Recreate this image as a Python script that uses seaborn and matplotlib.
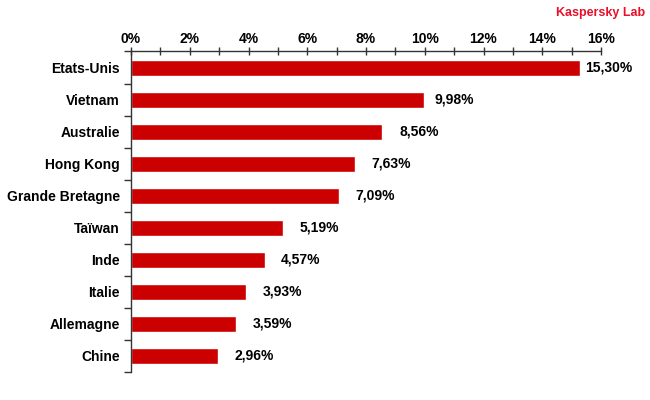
import numpy as np
import pandas as pd
import seaborn as sns
import matplotlib.pyplot as plt
from matplotlib.ticker import MultipleLocator, FixedLocator

countries = ['Etats-Unis', 'Vietnam', 'Australie', 'Hong Kong', 'Grande Bretagne',
             'Taïwan', 'Inde', 'Italie', 'Allemagne', 'Chine']
shares = [15.30, 9.98, 8.56, 7.63, 7.09, 5.19, 4.57, 3.93, 3.59, 2.96]
value_labels = ['15,30%', '9,98%', '8,56%', '7,63%', '7,09%',
                '5,19%', '4,57%', '3,93%', '3,59%', '2,96%']
# gap (px) between bar end and its label, as in the original
label_gaps = [5, 10, 17, 16, 16, 16, 16, 16, 16, 17]

df = pd.DataFrame({'country': countries, 'share': shares})

sns.set_style('white')
plt.rcParams['font.family'] = ['Liberation Sans', 'DejaVu Sans']
plt.rcParams['text.color'] = 'black'
plt.rcParams['xtick.color'] = 'black'
plt.rcParams['ytick.color'] = 'black'

fig = plt.figure(figsize=(6.5, 4), dpi=100)
ax = fig.add_axes([131 / 650, 0.07, 470 / 650, 0.80125])

sns.barplot(data=df, x='share', y='country', orient='h', color='#CC0000',
            saturation=1, width=0.5, ax=ax)

ax.set_xlim(0, 16)
ax.set_ylim(9.5, -0.5)
ax.set_xlabel('')
ax.set_ylabel('')

for sp in ['right', 'bottom']:
    ax.spines[sp].set_visible(False)
for sp in ['top', 'left']:
    ax.spines[sp].set_color('#333333')
    ax.spines[sp].set_linewidth(1.0)

ax.xaxis.tick_top()
ax.xaxis.set_minor_locator(MultipleLocator(1))
ax.set_xticks(np.arange(0, 17, 2))
ax.set_xticklabels([f'{int(v)}%' for v in np.arange(0, 17, 2)],
                   fontsize=10, fontweight='bold')
ax.tick_params(axis='x', which='both', direction='inout', length=6, width=1,
               color='#333333', pad=1, top=True, bottom=False)

ax.set_yticks(range(len(countries)))
ax.set_yticklabels(countries, fontsize=10, fontweight='bold')
ax.yaxis.set_minor_locator(FixedLocator(np.arange(-0.5, len(countries), 1)))
ax.tick_params(axis='y', which='major', length=0, pad=8)
ax.tick_params(axis='y', which='minor', direction='out', length=5, width=1,
               color='#333333', left=True)

for i, (v, lab) in enumerate(zip(shares, value_labels)):
    ax.annotate(lab, xy=(v, i), xytext=(label_gaps[i] * 0.72, 0),
                textcoords='offset points', va='center', ha='left',
                fontsize=10, fontweight='bold')

fig.text(0.992, 0.968, 'Kaspersky Lab', color='#E8102A', fontsize=9,
         fontweight='bold', ha='right', va='center')

fig.savefig('out.png', dpi=100)
